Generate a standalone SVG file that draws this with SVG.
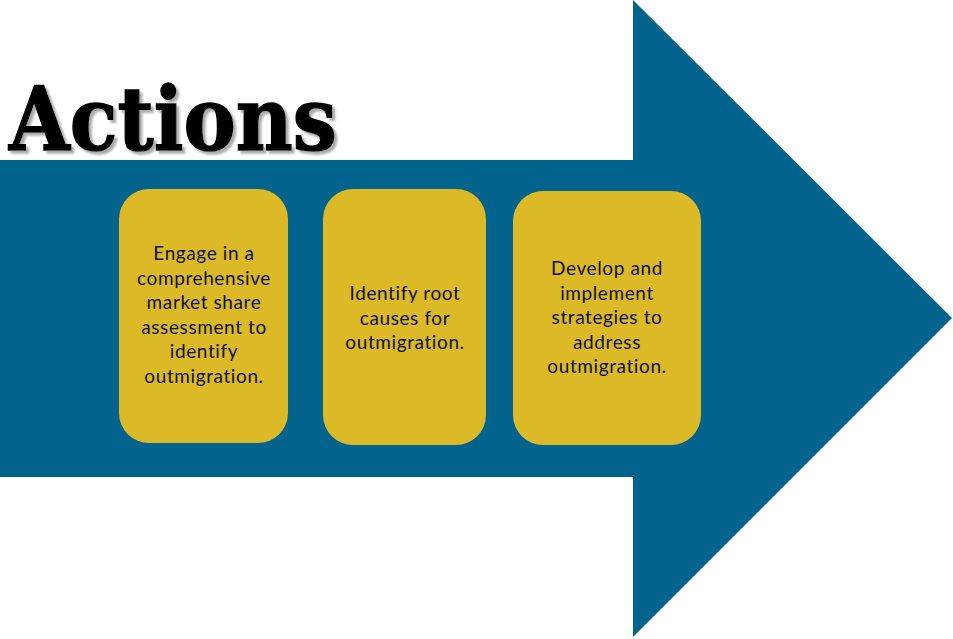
<svg xmlns="http://www.w3.org/2000/svg" width="953" height="639" viewBox="0 0 953 639">
<defs>
<filter id="sh" x="-5%" y="-10%" width="115%" height="130%">
<feDropShadow dx="3" dy="3" stdDeviation="1.2" flood-color="#888" flood-opacity="0.7"/>
</filter>
</defs>
<style>
.box{fill:#DBB927;}
.t{font-family:"Lato","Open Sans",sans-serif;font-size:19px;fill:#111;text-anchor:middle;letter-spacing:0.6px;}
.title{font-family:"DejaVu Serif",serif;font-weight:bold;font-size:88px;stroke:#000;stroke-width:1.5px;}
</style>
<rect width="953" height="639" fill="#fff"/>
<g id="arrow">
<polygon points="0,160 633,160 633,0 952,318 633,637 633,477 0,477" fill="#02638C"/>
</g>
<g id="title">
<text class="title" x="9" y="150" fill="#000" filter="url(#sh)" textLength="328" lengthAdjust="spacingAndGlyphs">Actions</text>
</g>
<g id="connectors"></g>
<g id="box1">
<rect class="box" x="119" y="189" width="169" height="254" rx="30"/>
<text class="t" x="204" y="260">Engage in a</text>
<text class="t" x="204" y="284.6">comprehensive</text>
<text class="t" x="204" y="309.2">market share</text>
<text class="t" x="204" y="333.8">assessment to</text>
<text class="t" x="204" y="358.4">identify</text>
<text class="t" x="204" y="383">outmigration.</text>
</g>
<g id="box2">
<rect class="box" x="323" y="189" width="163" height="256" rx="30"/>
<text class="t" x="405" y="300">Identify root</text>
<text class="t" x="405" y="324.6">causes for</text>
<text class="t" x="405" y="349.2">outmigration.</text>
</g>
<g id="box3">
<rect class="box" x="513" y="191" width="188" height="254" rx="30"/>
<text class="t" x="607" y="275">Develop and</text>
<text class="t" x="607" y="299.6">implement</text>
<text class="t" x="607" y="324.2">strategies to</text>
<text class="t" x="607" y="348.8">address</text>
<text class="t" x="607" y="373.4">outmigration.</text>
</g>
</svg>
